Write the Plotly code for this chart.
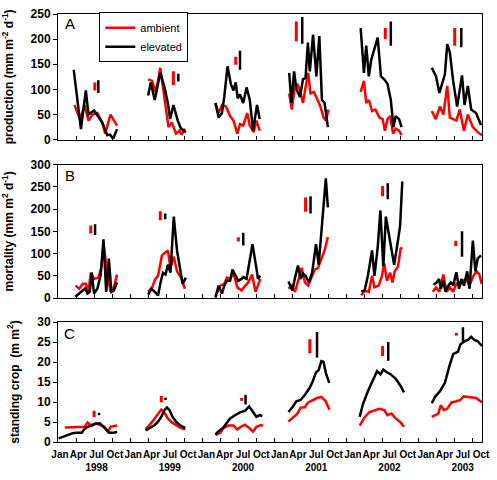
import plotly.graph_objects as go

RED = "#FF0000"
BLACK = "#000000"
FONT = "Arial, Liberation Sans, sans-serif"

# ---------------- Panel A: production (mm m-2 d-1) ----------------
prod_amb_x = [1998.228, 1998.304, 1998.370, 1998.423, 1998.477, 1998.545, 1998.614, 1998.655, 1998.727, 1998.818, None,
              1999.250, 1999.305, 1999.350, 1999.387, 1999.418, 1999.463, 1999.510, 1999.532, 1999.578, 1999.636, 1999.681, 1999.714, 1999.759, None,
              2000.182, 2000.227, 2000.273, 2000.328, 2000.386, 2000.432, 2000.486, 2000.523, 2000.568, 2000.623, 2000.659, 2000.714, 2000.750, 2000.796, None,
              2001.205, 2001.241, 2001.282, 2001.318, 2001.355, 2001.396, 2001.432, 2001.468, 2001.500, 2001.546, 2001.591, 2001.637, 2001.682, 2001.714, 2001.750, None,
              2002.196, 2002.241, 2002.273, 2002.309, 2002.354, 2002.401, 2002.455, 2002.500, 2002.532, 2002.568, 2002.605, 2002.646, 2002.682, 2002.728, 2002.763, None,
              2003.182, 2003.237, 2003.295, 2003.342, 2003.396, 2003.432, 2003.478, 2003.523, 2003.568, 2003.628, 2003.682, 2003.751, 2003.819, 2003.878]
prod_amb_y = [69, 41, 68, 38, 50, 53, 34, 12, 50, 28, None,
              120, 117, 95, 117, 143, 92, 44, 25, 34, 12, 18, 10, 22, None,
              73, 53, 69, 66, 47, 38, 12, 31, 28, 53, 28, 15, 38, 18, None,
              92, 60, 104, 111, 98, 73, 104, 133, 92, 95, 82, 66, 44, 38, 60, None,
              95, 117, 73, 79, 57, 60, 44, 41, 18, 41, 47, 12, 22, 18, 9, None,
              57, 41, 66, 50, 107, 44, 41, 38, 60, 18, 50, 25, 15, 9]
prod_ele_x = [1998.218, 1998.318, 1998.386, 1998.423, 1998.500, 1998.569, 1998.614, 1998.682, 1998.723, 1998.764, 1998.818, None,
              1999.250, 1999.286, 1999.341, 1999.387, 1999.418, 1999.477, 1999.523, 1999.555, 1999.600, 1999.660, 1999.705, 1999.773, None,
              2000.182, 2000.227, 2000.273, 2000.305, 2000.350, 2000.396, 2000.432, 2000.464, 2000.491, 2000.523, 2000.568, 2000.614, 2000.659, 2000.704, 2000.759, 2000.796, None,
              2001.205, 2001.236, 2001.273, 2001.304, 2001.355, 2001.396, 2001.432, 2001.464, 2001.491, 2001.536, 2001.582, 2001.623, 2001.659, 2001.696, 2001.741, None,
              2002.196, 2002.241, 2002.273, 2002.309, 2002.341, 2002.387, 2002.432, 2002.477, 2002.523, 2002.568, 2002.614, 2002.650, 2002.682, 2002.728, 2002.763, None,
              2003.182, 2003.241, 2003.287, 2003.332, 2003.364, 2003.396, 2003.432, 2003.478, 2003.533, 2003.601, 2003.636, 2003.682, 2003.728, 2003.796, 2003.864]
prod_ele_y = [139, 21, 98, 50, 58, 44, 34, 9, 10, 2, 21, None,
              88, 114, 79, 111, 133, 104, 73, 41, 69, 38, 22, 15, None,
              73, 44, 53, 85, 146, 111, 98, 114, 82, 90, 73, 104, 79, 18, 69, 41, None,
              133, 73, 136, 101, 85, 120, 123, 193, 136, 209, 126, 206, 79, 73, 25, None,
              222, 133, 187, 126, 158, 181, 203, 126, 120, 111, 79, 25, 47, 41, 25, None,
              143, 126, 93, 114, 130, 190, 174, 117, 66, 128, 69, 107, 60, 53, 29]
prod_bar_amb_x = [1998.511, 1999.600, 2000.464, 2001.304, 2002.537, 2003.500]
prod_bar_amb_lo = [98, 109, 149, 196, 200, 187]
prod_bar_amb_hi = [114, 136, 165, 235, 222, 222]
prod_bar_ele_x = [1998.559, 1999.668, 2000.523, 2001.386, 2002.614, 2003.591]
prod_bar_ele_lo = [93, 116, 139, 191, 187, 184]
prod_bar_ele_hi = [118, 131, 177, 244, 235, 222]

# ---------------- Panel B: mortality ----------------
mort_amb_x = [1998.241, 1998.296, 1998.341, 1998.386, 1998.423, 1998.454, 1998.500, 1998.559, 1998.604, 1998.631, 1998.682, 1998.727, 1998.773, 1998.818, None,
              1999.250, 1999.305, 1999.350, 1999.387, 1999.441, 1999.477, 1999.523, 1999.559, 1999.605, 1999.650, 1999.705, 1999.759, None,
              2000.182, 2000.250, 2000.305, 2000.341, 2000.386, 2000.432, 2000.486, 2000.546, 2000.577, 2000.636, 2000.691, 2000.737, 2000.772, 2000.805, None,
              2001.195, 2001.241, 2001.286, 2001.332, 2001.378, 2001.423, 2001.468, 2001.514, 2001.559, 2001.605, 2001.650, 2001.696, 2001.741, None,
              2002.204, 2002.251, 2002.309, 2002.354, 2002.387, 2002.446, 2002.491, 2002.523, 2002.559, 2002.605, 2002.637, 2002.668, 2002.714, 2002.750, 2002.773, None,
              2003.196, 2003.241, 2003.287, 2003.341, 2003.387, 2003.432, 2003.478, 2003.523, 2003.568, 2003.614, 2003.659, 2003.705, 2003.759, 2003.805, 2003.841, 2003.874]
mort_amb_y = [28, 21, 32, 32, 14, 57, 43, 46, 71, 121, 60, 14, 24, 53, None,
              14, 24, 43, 50, 96, 100, 107, 68, 93, 60, 46, 21, None,
              3, 28, 32, 46, 43, 57, 24, 17, 24, 35, 53, 14, 28, 43, None,
              21, 28, 14, 43, 68, 35, 28, 46, 64, 68, 86, 107, 137, None,
              6, 17, 14, 50, 24, 28, 50, 78, 39, 57, 35, 60, 71, 111, 114, None,
              14, 24, 14, 53, 14, 24, 14, 32, 28, 39, 43, 28, 50, 60, 53, 32]
mort_ele_x = [1998.241, 1998.318, 1998.378, 1998.409, 1998.440, 1998.468, 1998.500, 1998.545, 1998.590, 1998.631, 1998.668, 1998.705, 1998.740, 1998.773, 1998.818, None,
              1999.250, 1999.296, 1999.341, 1999.387, 1999.422, 1999.455, 1999.491, 1999.523, 1999.559, 1999.605, 1999.650, 1999.695, 1999.728, 1999.773, None,
              2000.182, 2000.227, 2000.273, 2000.305, 2000.341, 2000.386, 2000.418, 2000.455, 2000.500, 2000.546, 2000.568, 2000.614, 2000.696, 2000.750, 2000.772, 2000.805, None,
              2001.195, 2001.250, 2001.286, 2001.327, 2001.364, 2001.396, 2001.432, 2001.477, 2001.523, 2001.577, 2001.614, 2001.659, 2001.713, 2001.741, None,
              2002.204, 2002.251, 2002.296, 2002.354, 2002.387, 2002.432, 2002.469, 2002.510, 2002.545, 2002.592, 2002.660, 2002.705, 2002.742, 2002.773, None,
              2003.205, 2003.250, 2003.282, 2003.309, 2003.341, 2003.373, 2003.410, 2003.445, 2003.478, 2003.523, 2003.560, 2003.591, 2003.628, 2003.673, 2003.705, 2003.751, 2003.786, 2003.819, 2003.864]
mort_ele_y = [3, 14, 22, 10, 14, 57, 10, 21, 50, 132, 14, 89, 14, 17, 35, None,
              8, 21, 14, 6, 35, 57, 53, 75, 57, 183, 107, 64, 32, 46, None,
              1, 28, 10, 28, 39, 39, 64, 53, 39, 43, 47, 43, 121, 68, 43, 50, None,
              37, 17, 46, 73, 43, 55, 50, 35, 57, 121, 75, 168, 269, 204, None,
              15, 17, 50, 107, 50, 114, 197, 71, 183, 140, 75, 121, 161, 262, None,
              30, 35, 43, 21, 39, 14, 28, 35, 28, 58, 21, 43, 28, 60, 21, 129, 60, 89, 96]
mort_bar_amb_x = [1998.454, 1999.418, 2000.500, 2001.432, 2002.500, 2003.514]
mort_bar_amb_lo = [145, 175, 127, 194, 229, 117]
mort_bar_amb_hi = [163, 195, 137, 226, 252, 129]
mort_bar_ele_x = [1998.514, 1999.486, 2000.568, 2001.501, 2002.572, 2003.601]
mort_bar_ele_lo = [142, 177, 118, 190, 222, 93]
mort_bar_ele_hi = [166, 190, 147, 229, 258, 150]

# ---------------- Panel C: standing crop ----------------
crop_amb_x = [1998.095, 1998.200, 1998.300, 1998.370, 1998.410, 1998.450, 1998.520, 1998.580, 1998.640, 1998.690, 1998.730, 1998.820, None,
              1999.214, 1999.272, 1999.332, 1999.387, 1999.432, 1999.477, 1999.523, 1999.578, 1999.636, 1999.705, 1999.763, None,
              2000.182, 2000.250, 2000.295, 2000.363, 2000.432, 2000.486, 2000.523, 2000.591, 2000.650, 2000.704, 2000.750, 2000.805, 2000.841, None,
              2001.195, 2001.250, 2001.318, 2001.364, 2001.423, 2001.468, 2001.532, 2001.591, 2001.651, 2001.705, 2001.764, None,
              2002.182, 2002.251, 2002.319, 2002.387, 2002.455, 2002.523, 2002.568, 2002.623, 2002.682, 2002.750, 2002.796, None,
              2003.182, 2003.241, 2003.273, 2003.305, 2003.350, 2003.396, 2003.455, 2003.523, 2003.578, 2003.623, 2003.705, 2003.796, 2003.878]
crop_amb_y = [3.6, 3.7, 3.8, 3.8, 4.9, 4.2, 4.6, 4.3, 3.8, 2.6, 3.8, 4.1, None,
              3.3, 4.3, 5.7, 7.1, 8.1, 7.3, 5.9, 4.9, 4.3, 3.5, 3.2, None,
              1.7, 2.3, 3.5, 4.1, 4.1, 3.1, 3.7, 4.3, 3.5, 2.6, 3.8, 4.2, 4.1, None,
              5.1, 5.9, 7.1, 8.6, 8.7, 9.9, 10.5, 11.0, 11.3, 10.3, 8.1, None,
              4.1, 6.2, 7.5, 8.0, 8.3, 8.0, 6.7, 7.1, 5.9, 4.9, 3.8, None,
              6.3, 6.7, 7.1, 9.2, 8.0, 8.3, 9.9, 10.2, 10.5, 11.4, 11.2, 11.0, 9.9]
crop_ele_x = [1998.010, 1998.100, 1998.205, 1998.250, 1998.330, 1998.360, 1998.410, 1998.470, 1998.520, 1998.580, 1998.630, 1998.670, 1998.710, 1998.770, 1998.820, None,
              1999.214, 1999.272, 1999.332, 1999.387, 1999.432, 1999.477, 1999.510, 1999.545, 1999.591, 1999.636, 1999.705, 1999.763, None,
              2000.182, 2000.227, 2000.287, 2000.341, 2000.386, 2000.455, 2000.523, 2000.591, 2000.650, 2000.704, 2000.750, 2000.796, 2000.832, None,
              2001.195, 2001.250, 2001.304, 2001.364, 2001.432, 2001.487, 2001.532, 2001.577, 2001.614, 2001.651, 2001.682, 2001.714, 2001.760, None,
              2002.182, 2002.228, 2002.296, 2002.364, 2002.423, 2002.469, 2002.510, 2002.555, 2002.614, 2002.682, 2002.750, 2002.796, None,
              2003.182, 2003.227, 2003.295, 2003.364, 2003.423, 2003.478, 2003.546, 2003.578, 2003.636, 2003.682, 2003.728, 2003.773, 2003.819, 2003.878]
crop_ele_y = [0.9, 1.5, 2.2, 2.3, 2.3, 3.1, 3.8, 4.1, 4.6, 4.7, 3.9, 3.1, 2.3, 2.3, 2.5, None,
              2.9, 3.4, 4.1, 5.1, 6.3, 8.0, 8.6, 8.0, 6.2, 5.1, 4.0, 3.5, None,
              1.9, 2.7, 3.5, 4.7, 5.9, 6.7, 7.4, 7.8, 8.9, 7.5, 6.3, 6.7, 6.5, None,
              7.5, 8.7, 10.2, 10.5, 12.0, 13.5, 15.2, 17.4, 18.0, 20.2, 20.0, 17.2, 14.8, None,
              6.3, 9.5, 12.7, 15.5, 17.7, 16.9, 18.1, 17.5, 16.9, 15.8, 14.0, 12.4, None,
              9.7, 11.3, 12.7, 14.8, 18.8, 22.0, 22.6, 24.4, 25.2, 25.5, 26.3, 25.5, 25.2, 24.0]
crop_bar_amb_x = [1998.500, 1999.432, 2000.546, 2001.491, 2002.500, 2003.523]
crop_bar_amb_lo = [6.2, 9.9, 10.3, 22.2, 21.5, 26.6]
crop_bar_amb_hi = [7.8, 11.5, 11.0, 25.7, 24.0, 27.3]
crop_bar_ele_x = [1998.569, 1999.491, 2000.600, 2001.591, 2002.578, 2003.614]
crop_bar_ele_lo = [6.7, 10.5, 9.4, 21.1, 20.3, 25.1]
crop_bar_ele_hi = [7.3, 11.1, 11.8, 27.5, 25.0, 28.7]

# ---------------- axis labels ----------------
years = [1998, 1999, 2000, 2001, 2002, 2003]
months = ["Jan", "Apr", "Jul", "Oct"]
panel_letters = ["A", "B", "C"]
y_titles = ["production (mm m<sup>-2</sup> d<sup>-1</sup>)",
            "mortality (mm m<sup>2</sup> d<sup>-1</sup>)",
            "standing crop  (m m<sup>2</sup>)"]
y_ranges = [[0, 250], [0, 300], [0, 30]]
y_dticks = [50, 50, 5]

tick_vals = []
tick_text = []
for yr in years:
    for i, mo in enumerate(months):
        tick_vals.append(yr + i * 0.25)
        tick_text.append(mo + ("<br>" + str(yr) if mo == "Jul" else ""))

fig = go.Figure()


def add_series(x, y, color, ax, name, show):
    fig.add_trace(go.Scatter(x=x, y=y, mode="lines", name=name, showlegend=show,
                             line=dict(color=color, width=2.5),
                             xaxis=ax[0], yaxis=ax[1], hoverinfo="skip"))


def add_bars(x, lo, hi, color, ax, thick):
    mid = [(a + b) / 2 for a, b in zip(lo, hi)]
    half = [(b - a) / 2 for a, b in zip(lo, hi)]
    fig.add_trace(go.Scatter(x=x, y=mid, mode="markers", showlegend=False,
                             marker=dict(size=1, color="rgba(0,0,0,0)"),
                             error_y=dict(type="data", array=half, visible=True,
                                          thickness=thick, width=0, color=color),
                             xaxis=ax[0], yaxis=ax[1], hoverinfo="skip"))


axA, axB, axC = ("x", "y"), ("x2", "y2"), ("x3", "y3")
add_series(prod_amb_x, prod_amb_y, RED, axA, "ambient", True)
add_series(prod_ele_x, prod_ele_y, BLACK, axA, "elevated", True)
add_bars(prod_bar_amb_x, prod_bar_amb_lo, prod_bar_amb_hi, RED, axA, 3)
add_bars(prod_bar_ele_x, prod_bar_ele_lo, prod_bar_ele_hi, BLACK, axA, 2.5)

add_series(mort_amb_x, mort_amb_y, RED, axB, "ambient", False)
add_series(mort_ele_x, mort_ele_y, BLACK, axB, "elevated", False)
add_bars(mort_bar_amb_x, mort_bar_amb_lo, mort_bar_amb_hi, RED, axB, 3)
add_bars(mort_bar_ele_x, mort_bar_ele_lo, mort_bar_ele_hi, BLACK, axB, 2.5)

add_series(crop_amb_x, crop_amb_y, RED, axC, "ambient", False)
add_series(crop_ele_x, crop_ele_y, BLACK, axC, "elevated", False)
add_bars(crop_bar_amb_x, crop_bar_amb_lo, crop_bar_amb_hi, RED, axC, 3)
add_bars(crop_bar_ele_x, crop_bar_ele_lo, crop_bar_ele_hi, BLACK, axC, 2.5)

domains = [[0.7063, 1.0], [0.3363, 0.6480], [0.0, 0.2803]]
x_range = [1998.0, 2003.878]

layout = dict(
    width=497, height=480,
    margin=dict(l=55, r=11, t=7, b=27),
    paper_bgcolor="white", plot_bgcolor="white",
    font=dict(family=FONT, color="black"),
    legend=dict(x=0.0974, y=1.004, xanchor="left", yanchor="top",
                bgcolor="white", bordercolor="black", borderwidth=1,
                font=dict(size=11, family=FONT), tracegroupgap=0,
                itemwidth=30),
    showlegend=True,
)

for i in range(3):
    xs = "xaxis" if i == 0 else "xaxis%d" % (i + 1)
    ys = "yaxis" if i == 0 else "yaxis%d" % (i + 1)
    layout[xs] = dict(domain=[0, 1], anchor="y" if i == 0 else "y%d" % (i + 1),
                      range=x_range, tickmode="array", tickvals=tick_vals,
                      showticklabels=False, ticks="inside", ticklen=4,
                      tickcolor="black", showline=True, linecolor="black",
                      linewidth=1, mirror=True, showgrid=False, zeroline=False)
    layout[ys] = dict(domain=domains[i], anchor="x" if i == 0 else "x%d" % (i + 1),
                      range=y_ranges[i], dtick=y_dticks[i], tick0=0,
                      ticks="outside", ticklen=4, tickcolor="black",
                      showline=True, linecolor="black", linewidth=1, mirror=True,
                      showgrid=False, zeroline=False,
                      tickfont=dict(size=12, weight="bold", family=FONT),
                      title=dict(text=y_titles[i],
                                 font=dict(size=12, weight="bold", family=FONT)))

# label axis overlaying the bottom panel (month + year labels)
layout["xaxis4"] = dict(overlaying="x3", anchor="y3", side="bottom",
                        range=[1997.9731, 2003.7633], tickmode="array",
                        tickvals=tick_vals, ticktext=tick_text, tickangle=0,
                        ticks="outside", ticklen=3, tickcolor="rgba(0,0,0,0)",
                        showline=False, showgrid=False, zeroline=False,
                        tickfont=dict(size=10, weight="bold", family=FONT))

fig.update_layout(**layout)
# invisible anchor trace so the label axis is drawn
fig.add_trace(go.Scatter(x=[1998.0], y=[0], xaxis="x4", yaxis="y3", mode="markers",
                         marker=dict(size=1, color="rgba(0,0,0,0)"),
                         showlegend=False, hoverinfo="skip"))

letter_y = [0.924, 0.921, 0.904]
for i, letter in enumerate(panel_letters):
    xr = "x" if i == 0 else "x%d" % (i + 1)
    yr = "y" if i == 0 else "y%d" % (i + 1)
    fig.add_annotation(text=letter, xref=xr + " domain", yref=yr + " domain",
                       x=0.028, y=letter_y[i], xanchor="center", yanchor="middle",
                       showarrow=False, font=dict(size=15, family=FONT))

fig.write_html("out.html", config={"displayModeBar": False},
               post_script="document.body.style.margin='0px';")
